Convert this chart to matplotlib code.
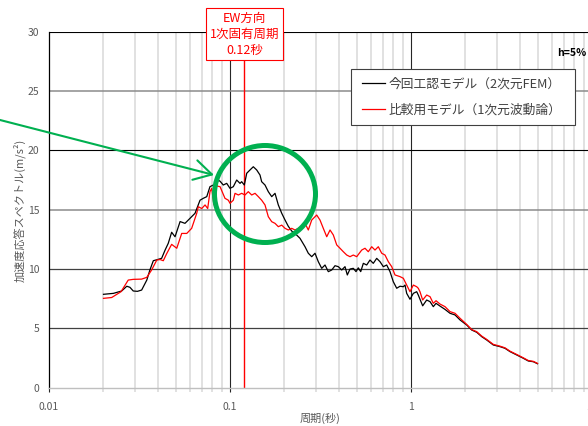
import matplotlib
matplotlib.use("Agg")
import matplotlib.pyplot as plt
from matplotlib.patches import Ellipse, Rectangle

plt.rcParams['font.family'] = ['Noto Sans CJK JP', 'DejaVu Sans']

# acceleration response spectra, h=5%  (period s, Sa m/s2)
fem_period = [0.0200, 0.0227, 0.0252, 0.0269, 0.0280, 0.0292, 0.0308, 0.0325, 0.0347, 0.0361,
              0.0377, 0.0402, 0.0419, 0.0438, 0.0456, 0.0476, 0.0497, 0.0530, 0.0564, 0.0601,
              0.0641, 0.0683, 0.0712, 0.0744, 0.0775, 0.0809, 0.0831, 0.0858, 0.0881, 0.0918,
              0.0959, 0.1000, 0.1043, 0.1089, 0.1136, 0.1160, 0.1200, 0.1237, 0.1290, 0.1345,
              0.1404, 0.1465, 0.1496, 0.1561, 0.1628, 0.1700, 0.1773, 0.1849, 0.1931, 0.2014,
              0.2100, 0.2193, 0.2287, 0.2436, 0.2597, 0.2708, 0.2828, 0.2949, 0.3075, 0.3211,
              0.3349, 0.3493, 0.3648, 0.3804, 0.3966, 0.4142, 0.4319, 0.4448, 0.4603, 0.4800,
              0.4968, 0.5115, 0.5275, 0.5453, 0.5691, 0.5935, 0.6190, 0.6464, 0.6742, 0.7031,
              0.7341, 0.7656, 0.7984, 0.8337, 0.8695, 0.9070, 0.9268, 0.9467, 0.9874, 1.030,
              1.075, 1.097, 1.160, 1.221, 1.274, 1.328, 1.375, 1.446, 1.541, 1.643,
              1.751, 1.866, 2.032, 2.165, 2.307, 2.459, 2.620, 2.849, 3.102, 3.306,
              3.524, 3.837, 4.173, 4.447, 4.740, 5.000]
fem_sa = [7.87, 7.95, 8.15, 8.55, 8.46, 8.15, 8.12, 8.23, 9.07, 9.92,
          10.70, 10.82, 10.90, 11.60, 12.17, 13.10, 12.72, 14.00, 13.85, 14.27,
          14.70, 15.80, 15.96, 16.10, 16.94, 17.08, 16.60, 17.50, 17.40, 17.08,
          17.22, 16.80, 16.94, 17.50, 17.22, 17.36, 17.08, 18.07, 18.35, 18.62,
          18.35, 17.92, 17.36, 17.08, 16.52, 16.10, 16.38, 15.40, 14.70, 14.13,
          13.60, 13.20, 13.00, 12.59, 11.88, 11.33, 11.04, 11.33, 10.62, 10.06,
          10.34, 9.78, 9.92, 10.28, 10.20, 9.92, 10.20, 9.50, 10.00, 10.06,
          9.78, 10.10, 9.78, 10.48, 10.34, 10.76, 10.48, 10.90, 10.62, 10.20,
          10.34, 9.78, 8.93, 8.38, 8.55, 8.51, 8.65, 7.95, 7.45, 7.95,
          8.09, 7.81, 6.90, 7.39, 7.25, 6.83, 7.11, 6.88, 6.60, 6.27,
          6.13, 5.71, 5.28, 4.86, 4.67, 4.30, 4.02, 3.60, 3.46, 3.32,
          3.04, 2.76, 2.48, 2.25, 2.19, 2.02]

wave_period = [0.0200, 0.0222, 0.0250, 0.0274, 0.0292, 0.0325, 0.0347, 0.0369, 0.0394, 0.0411,
               0.0428, 0.0447, 0.0476, 0.0508, 0.0541, 0.0577, 0.0614, 0.0655, 0.0668, 0.0698,
               0.0728, 0.0753, 0.0775, 0.0792, 0.0816, 0.0844, 0.0881, 0.0938, 0.0979, 0.1000,
               0.1043, 0.1066, 0.1112, 0.1160, 0.1210, 0.1262, 0.1318, 0.1375, 0.1434, 0.1496,
               0.1561, 0.1628, 0.1700, 0.1773, 0.1849, 0.1931, 0.2014, 0.2100, 0.2193, 0.2287,
               0.2385, 0.2490, 0.2597, 0.2708, 0.2828, 0.3013, 0.3142, 0.3277, 0.3423, 0.3570,
               0.3722, 0.3887, 0.4053, 0.4227, 0.4414, 0.4603, 0.4800, 0.5012, 0.5342, 0.5570,
               0.5808, 0.6065, 0.6326, 0.6597, 0.6889, 0.7185, 0.7493, 0.7824, 0.8159, 0.8695,
               0.9070, 0.9467, 0.9874, 1.030, 1.075, 1.097, 1.121, 1.160, 1.221, 1.274,
               1.328, 1.375, 1.446, 1.541, 1.643, 1.751, 1.866, 2.032, 2.165, 2.307,
               2.459, 2.620, 2.849, 3.102, 3.306, 3.524, 3.837, 4.173, 4.447, 4.740,
               5.000]
wave_sa = [7.53, 7.60, 8.09, 9.07, 9.13, 9.15, 9.30, 9.92, 10.76, 10.80,
           10.70, 11.30, 12.08, 11.75, 13.00, 13.00, 13.43, 14.70, 15.25, 15.10,
           15.40, 15.10, 16.52, 16.80, 15.40, 17.00, 16.94, 15.96, 15.80, 15.54,
           15.80, 16.38, 16.24, 16.38, 16.24, 16.52, 16.24, 16.38, 16.10, 15.80,
           15.40, 14.41, 13.99, 13.85, 13.57, 13.70, 13.43, 13.29, 13.43, 13.29,
           13.43, 13.57, 13.85, 13.29, 14.13, 14.55, 14.13, 13.43, 12.72, 13.29,
           12.87, 12.03, 11.75, 11.46, 11.18, 11.04, 11.18, 11.04, 11.60, 11.75,
           11.46, 11.88, 11.60, 11.88, 11.33, 11.18, 10.62, 10.20, 9.50, 9.36,
           9.22, 8.65, 8.09, 8.65, 8.51, 8.38, 8.09, 7.39, 7.81, 7.67,
           7.11, 7.33, 7.05, 6.83, 6.41, 6.27, 5.85, 5.33, 4.90, 4.72,
           4.35, 4.07, 3.65, 3.50, 3.36, 3.08, 2.80, 2.52, 2.29, 2.22,
           2.05]

series_labels = ["今回工認モデル（2次元FEM）", "比較用モデル（1次元波動論）"]
natural_period = 0.12
period_note = "EW方向\n1次固有周期\n0.12秒"
y_ticks = [0, 5, 10, 15, 20, 25, 30]
x_ticks = [0.01, 0.1, 1, 10]
x_tick_labels = ["0.01", "0.1", "1", "10"]

GREEN = "#00B050"
TXT = "#595959"

W, H = 588, 426
fig = plt.figure(figsize=(W / 100, H / 100), dpi=100)
# the axes run past the right edge on purpose: the source image is cropped at ~9.5 s
ax = fig.add_axes([49 / W, (H - 387.7) / H, 543 / W, 356 / H])
ax.set_xscale("log")
ax.set_xlim(0.01, 10)
ax.set_ylim(0, 30)

# vertical grid: light minors, dark decades
minor_x = [k * d for d in (0.01, 0.1, 1) for k in range(2, 10)]
for xv in minor_x:
    ax.axvline(xv, color="#d9d9d9", lw=1.1, zorder=0)
for xv in (0.1, 1):
    ax.axvline(xv, color="#262626", lw=0.8, zorder=1)

# horizontal grid, alternating like the original sheet
hline_style = {5: ("#404040", 0.9), 10: ("#404040", 0.9), 15: ("#8c8c8c", 1.1),
               20: ("#000000", 0.8), 25: ("#8c8c8c", 1.1), 30: ("#000000", 0.8)}
for yv, (c, w) in hline_style.items():
    ax.axhline(yv, color=c, lw=w, zorder=1)

ax.axvline(natural_period, color="red", lw=1.0, zorder=2)

fem_line, = ax.plot(fem_period, fem_sa, color="black", lw=0.9, zorder=3)
wave_line, = ax.plot(wave_period, wave_sa, color="red", lw=0.9, zorder=4)

ax.set_xticks(x_ticks)
ax.set_xticklabels(x_tick_labels)
ax.set_xticks(minor_x, minor=True)
ax.xaxis.set_minor_formatter(plt.NullFormatter())
ax.set_yticks(y_ticks)
ax.tick_params(axis="x", which="major", length=3, color="#262626", pad=7.5,
               labelsize=7.5, labelcolor=TXT)
ax.tick_params(axis="x", which="minor", length=3, color="#d9d9d9", width=1.1)
ax.tick_params(axis="y", length=0, pad=7, labelsize=7.5, labelcolor=TXT)

for side in ("top", "right"):
    ax.spines[side].set_visible(False)
ax.spines["left"].set_color("black")
ax.spines["left"].set_linewidth(0.9)
ax.spines["bottom"].set_color("#bfbfbf")
ax.spines["bottom"].set_linewidth(1.0)

fig.text(320.5 / W, 1 - 418 / H, "周期(秒)", ha="center", va="center",
         fontsize=8, color=TXT)
fig.text(19 / W, 1 - 210 / H, "加速度応答スペクトル(m/s²)", ha="center", va="center",
         rotation=90, fontsize=8, color=TXT)

# legend with a hand-drawn frame (fixed size like the sheet)
fig.add_artist(Rectangle((3.51, (H - 125) / 100), 2.24, 0.56, transform=fig.dpi_scale_trans,
                         fill=True, fc="white", ec="#404040", lw=0.8, zorder=5))
leg = fig.legend([fem_line, wave_line], series_labels, loc="upper left",
                 bbox_to_anchor=(361.5 / W, 1 - 77.5 / H), borderaxespad=0, borderpad=0,
                 frameon=False, fontsize=9.2, handlelength=1.8, handletextpad=0.3,
                 labelspacing=1.05, labelcolor="#404040")
leg.set_zorder(6)

fig.text(557 / W, 1 - 53 / H, "h=5%", ha="left", va="center", fontsize=7.5,
         fontweight="bold", color="black")

ax.annotate(period_note, xy=(natural_period, 1 - 34 / H), xycoords=("data", "figure fraction"),
            ha="center", va="center", color="red", fontsize=9, linespacing=1.3,
            bbox=dict(boxstyle="square,pad=0.3", fc="white", ec="red", lw=0.8),
            zorder=7, annotation_clip=False)

# green callout: arrow from off-canvas left and a ring around the peak
ax.annotate("", xy=(214, H - 175), xytext=(-5, H - 118.7),
            xycoords="figure pixels", textcoords="figure pixels",
            arrowprops=dict(arrowstyle="->,head_length=1.27,head_width=0.72",
                            color=GREEN, lw=1.5, mutation_scale=10,
                            shrinkA=0, shrinkB=0),
            annotation_clip=False, zorder=8)
fig.add_artist(Ellipse((2.65, (H - 194) / 100), 1.01, 0.97, transform=fig.dpi_scale_trans,
                       fill=False, ec=GREEN, lw=3.6, zorder=9))

fig.savefig("out.png", dpi=100, facecolor="white")
